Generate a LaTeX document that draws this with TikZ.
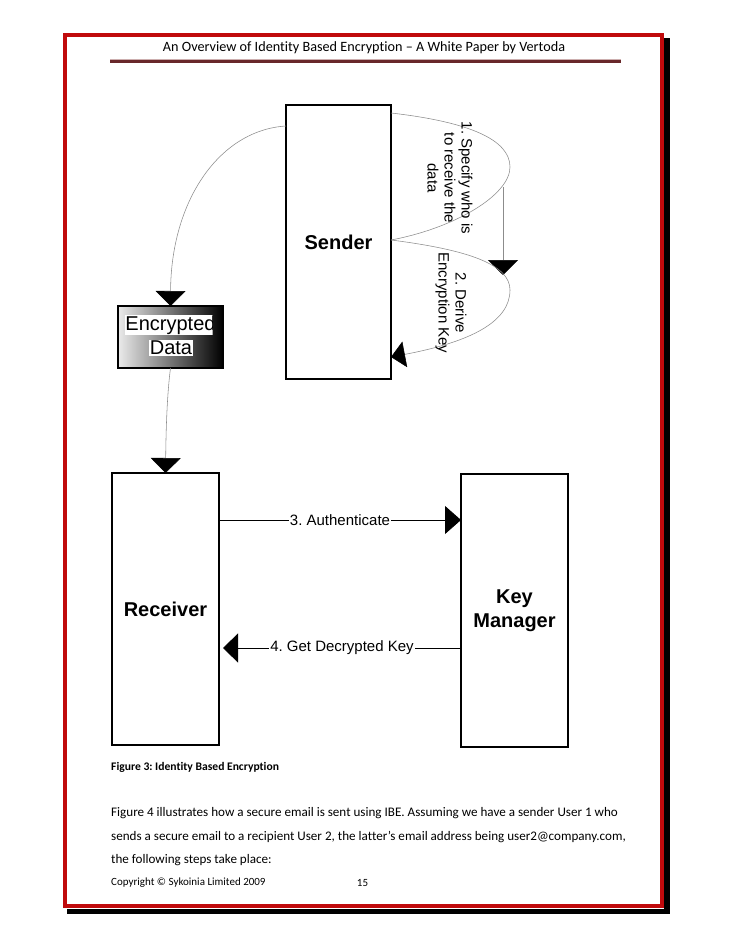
\documentclass[tikz,border=0pt]{standalone}
\usepackage{fontspec}
\setmainfont{Carlito}[RawFeature={-liga;-clig}]
\newfontfamily\arial{Liberation Sans}
\usetikzlibrary{arrows.meta}
\definecolor{framered}{RGB}{192,10,12}
\definecolor{rulemaroon}{RGB}{104,40,42}
\definecolor{rulelight}{RGB}{205,175,175}
\definecolor{curvegray}{RGB}{140,140,140}
\frenchspacing
\begin{document}
\frenchspacing
\begin{tikzpicture}[x=1pt,y=-1pt,
  box/.style={draw=black,line width=1.1pt,fill=white,inner sep=0pt,outer sep=0pt,
    font=\arial\bfseries\fontsize{20}{24}\selectfont,align=center},
  curve/.style={draw=curvegray,line width=0.55pt},
  bigtip/.style={-{Triangle[length=15pt,width=30pt,color=black]}},
  flowline/.style={draw=black,line width=0.8pt},
  lbl/.style={font=\arial\fontsize{15}{17}\selectfont,text=black},
  pagetext/.style={font=\fontsize{13.1}{15}\selectfont,anchor=west,inner sep=0pt}
]
\useasboundingbox (0,0) rectangle (728,942);
\fill[white] (0,0) rectangle (728,942);

% page frame with shadow
\fill[black] (664,38) rectangle (670,914);
\fill[black] (67,909) rectangle (670,914);
\draw[framered,line width=4.5pt] (65,35) rectangle (662,906);

% header
\node[font=\fontsize{14.2}{16}\selectfont,inner sep=0pt] (hdr) at (364,47.5)
  {An Overview of Identity Based Encryption – A White Paper by Vertoda};
\draw[rulelight,line width=1pt] (110,59.8) -- (621,59.8);
\draw[rulemaroon,line width=3pt] (110,61.8) -- (621,61.8);

% boxes
\node[box,minimum width=105pt,minimum height=274pt] (sender) at (338.5,242) {Sender};
\node[draw=black,line width=1.1pt,inner sep=0pt,outer sep=0pt,
  left color=white!92!black,right color=black,
  minimum width=105pt,minimum height=62pt] (enc) at (170.5,337) {};
\begin{scope}
  \clip (100,300) rectangle (212.5,372);
  \node[fill=white,inner sep=0.3pt,lbl,font=\arial\fontsize{20}{24}\selectfont] (enct1) at (170.5,325) {Encrypted};
\end{scope}
\node[fill=white,inner sep=0.8pt,lbl,font=\arial\fontsize{20}{24}\selectfont] (enct2) at (171,348) {Data};
\node[box,minimum width=107pt,minimum height=272pt] (rec) at (165.5,609) {Receiver};
\node[box,minimum width=107pt,minimum height=273pt] (km) at (514.5,610.5) {Key\\Manager};

% sender -> encrypted data
\draw[curve,bigtip] ([yshift=-21pt]sender.north west)
  .. controls (220,130) and (171,200) .. (enc.north);
% encrypted data -> receiver
\draw[curve,bigtip] (enc.south)
  .. controls (167,395) and (166,430) .. (rec.north);

% loop 1
\draw[curve] ([yshift=-8pt]sender.north east)
  .. controls (470,122) and (510,140) .. (510,167)
  .. controls (510,195) and (455,228) .. ([yshift=2pt]sender.east);
\coordinate (avert) at (503,187);
\coordinate (aend) at (503,275);
\draw[curve,bigtip] (avert) -- (aend);
\node[lbl,rotate=-90,align=center] (l1) at (450,178) {1. Specify who is\\to receive the\\data};

% loop 2
\draw[curve,-{Triangle[length=14pt,width=26pt,color=black]}] ([yshift=2pt]sender.east)
  .. controls (470,250) and (510,265) .. (510,290)
  .. controls (510,322) and (470,342) .. ([yshift=22pt]sender.south east);
\node[lbl,rotate=-90,align=center] (l2) at (451,303) {2. Derive\\Encryption Key};

% receiver <-> key manager
\coordinate (a3s) at ([yshift=-47pt]rec.north east);
\draw[flowline,-{Triangle[length=16pt,width=28pt]}] (a3s) -- (a3s -| km.west)
  node[midway,fill=white,inner sep=1pt,lbl] (l3) {3. Authenticate};
\coordinate (a4s) at ([yshift=-174pt]km.north west);
\coordinate (a4e) at ([xshift=4pt]a4s -| rec.east);
\draw[flowline,-{Triangle[length=15pt,width=29pt]}] (a4s) -- (a4e)
  node[midway,fill=white,inner sep=1pt,lbl] (l4) {4. Get Decrypted Key};

% page text
\node[pagetext,font=\bfseries\fontsize{11.6}{13}\selectfont] (cap) at (111,767) {Figure 3: Identity Based Encryption};
\node[pagetext] (p1) at (111,813) {Figure 4 illustrates how a secure email is sent using IBE. Assuming we have a sender User 1 who};
\node[pagetext] (p2) at (111,836.5) {sends a secure email to a recipient User 2, the latter's email address being user2@company.com,};
\node[pagetext] (p3) at (111,860) {the following steps take place:};
\node[pagetext,font=\fontsize{11}{13}\selectfont] (copy) at (111,883) {Copyright © Sykoinia Limited 2009};
\node[font=\fontsize{11}{13}\selectfont,inner sep=0pt] (pg) at (362.5,883) {15};
\end{tikzpicture}
\end{document}
